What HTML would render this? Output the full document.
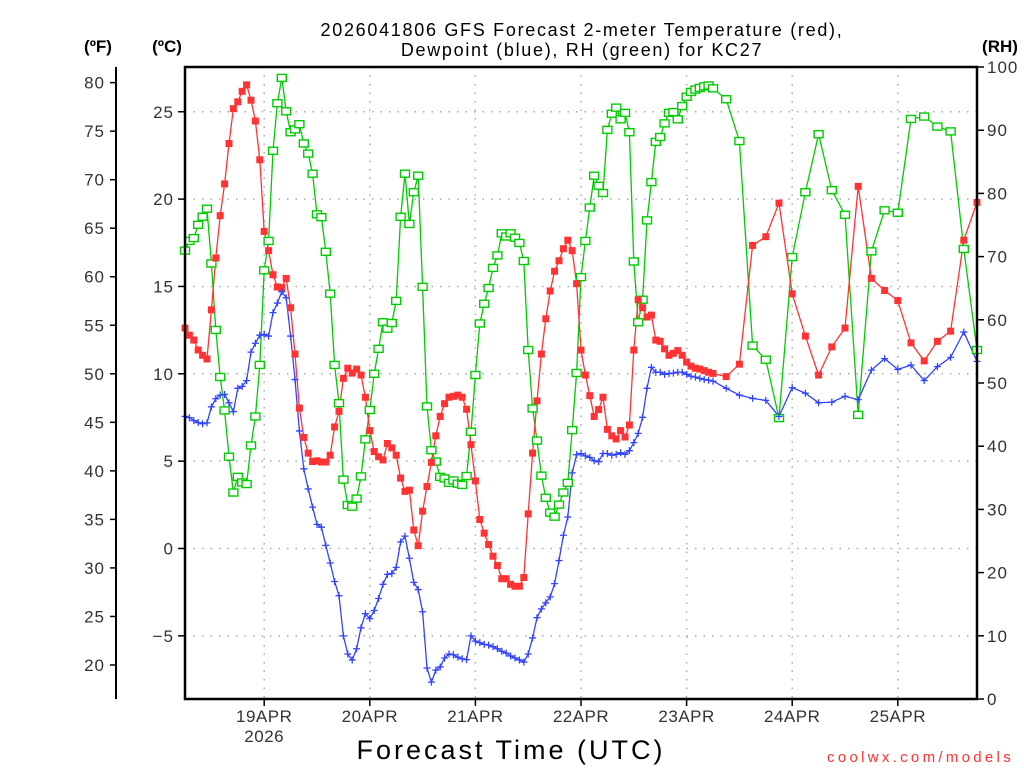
<!DOCTYPE html>
<html><head><meta charset="utf-8"><style>
html,body{margin:0;padding:0;background:#fff;}
svg{display:block;font-family:"Liberation Sans",sans-serif;}
</style></head><body>
<svg id="chart" width="1024" height="768" viewBox="0 0 1024 768" xmlns="http://www.w3.org/2000/svg">
<rect x="0" y="0" width="1024" height="768" fill="#fff"/>
<g id="grid"></g>
<g id="series"></g>
<g id="axes"></g>
<text x="582" y="36" font-size="18" text-anchor="middle" fill="#000" letter-spacing="1.7">2026041806 GFS Forecast 2-meter Temperature (red),</text>
<text x="582" y="56" font-size="18" text-anchor="middle" fill="#000" letter-spacing="1.7">Dewpoint (blue), RH (green) for KC27</text>
<text x="98" y="52" font-size="17" font-weight="bold" text-anchor="middle">(ºF)</text>
<text x="167" y="52" font-size="17" font-weight="bold" text-anchor="middle">(ºC)</text>
<text x="1000" y="52" font-size="17" font-weight="bold" text-anchor="middle">(RH)</text>
<text x="511" y="759" font-size="27" text-anchor="middle" letter-spacing="3">Forecast Time (UTC)</text>
<text x="1014" y="762" font-size="15" text-anchor="end" fill="#ff3333" letter-spacing="3.3">coolwx.com/models</text>
</svg>
<script>
const hours = [];
for (let h = 0; h <= 120; h++) hours.push(h);
for (let h = 123; h <= 180; h += 3) hours.push(h);

const tempC = [12.62,12.21,11.93,11.36,11.06,10.85,13.66,16.63,19.05,20.87,23.18,25.18,25.57,26.17,26.54,25.66,24.47,22.25,18.15,17.05,15.67,14.97,14.93,15.46,13.78,11.13,8.04,6.36,5.46,4.98,5.02,4.95,4.95,5.34,6.96,7.85,9.74,10.32,10.04,10.27,9.93,8.66,6.75,5.55,5.25,5.07,6.01,5.76,5.34,4.03,3.27,3.34,1.06,0.16,2.14,3.55,4.93,6.45,7.56,8.29,8.66,8.71,8.78,8.66,7.97,5.94,3.87,1.66,0.88,0.23,-0.44,-0.97,-1.73,-1.73,-2.05,-2.16,-2.16,-1.66,1.98,5.46,8.45,11.13,13.15,14.74,15.87,16.47,17.16,17.65,17.05,15.16,11.36,9.93,8.75,7.56,7.95,8.66,6.82,6.45,6.27,6.75,6.38,7.07,11.36,14.24,13.78,13.25,13.36,11.93,11.86,11.43,11.06,11.17,11.33,11.06,10.67,10.44,10.32,10.27,10.18,10.09,10.02,9.84,10.55,17.35,17.85,19.77,14.58,12.16,9.93,11.54,12.62,20.73,15.46,14.77,14.19,11.77,10.74,11.86,12.44,17.65,19.81];

const dewC = [7.56,7.49,7.32,7.21,7.14,7.19,8.11,8.57,8.78,8.82,8.34,7.83,9.17,9.28,9.61,11.24,11.75,12.21,12.26,12.16,13.50,14.05,14.70,14.35,12.16,9.67,6.73,4.56,3.41,2.37,1.38,1.22,0.18,-0.83,-1.89,-2.70,-5.00,-6.04,-6.38,-5.74,-4.54,-3.73,-4.01,-3.55,-2.86,-2.05,-1.48,-1.43,-1.08,0.37,0.71,-0.56,-1.94,-2.35,-3.62,-6.84,-7.65,-6.96,-6.78,-6.27,-6.04,-6.08,-6.22,-6.31,-6.36,-5.00,-5.30,-5.39,-5.49,-5.53,-5.62,-5.74,-5.88,-5.99,-6.15,-6.27,-6.38,-6.50,-6.04,-5.12,-3.96,-3.46,-3.11,-2.77,-2.01,-0.69,0.76,1.80,4.33,5.37,5.44,5.30,5.21,5.02,4.97,5.44,5.44,5.34,5.39,5.48,5.39,5.60,6.06,6.59,7.51,9.17,10.37,10.09,10.09,9.97,10.02,10.04,10.09,10.09,9.97,9.86,9.81,9.74,9.67,9.63,9.58,9.17,8.78,8.59,8.48,7.56,9.21,8.89,8.34,8.38,8.71,8.52,10.21,10.87,10.25,10.50,9.61,10.41,10.94,12.39,10.71];

const rh = [70.95,72.48,72.93,75.03,76.30,77.58,68.91,58.40,50.95,45.66,38.34,32.67,35.15,34.26,34.01,40.12,44.71,52.86,67.83,72.48,86.75,94.27,98.28,92.99,89.68,90.13,90.95,87.90,86.30,83.12,76.69,76.24,70.76,64.14,52.86,46.81,34.71,30.69,30.44,31.71,35.22,41.08,45.73,51.46,55.41,59.61,58.60,59.49,62.99,76.30,83.12,75.16,80.19,82.80,65.22,46.30,39.36,37.57,35.15,34.90,34.20,34.58,34.07,33.88,35.28,42.29,51.27,59.42,62.54,65.03,68.21,70.19,73.69,73.18,73.69,72.99,72.16,69.30,55.22,45.98,40.89,35.34,31.84,29.48,28.85,30.76,32.67,34.20,42.54,51.59,66.75,72.48,77.77,82.80,81.21,80.06,90.06,92.61,93.57,91.72,92.74,89.68,69.23,59.61,63.18,75.73,81.78,88.15,88.92,91.08,92.74,92.87,91.72,93.82,95.29,96.05,96.43,96.69,96.94,97.07,96.62,94.90,88.28,55.92,53.69,44.45,69.93,80.19,89.36,80.51,76.62,44.96,70.83,77.32,76.94,91.78,92.16,90.57,89.81,71.21,55.22];

const cTicks = [25,20,15,10,5,0,-5];
const fTicks = [80,75,70,65,60,55,50,45,40,35,30,25,20];
const rhTicks = [100,90,80,70,60,50,40,30,20,10,0];
const dayHours = [18,42,66,90,114,138,162];
const dayLabels = ["19APR","20APR","21APR","22APR","23APR","24APR","25APR"];

const L=185,R=977,T=67,B=699;
const xOf = h => L + (h/180)*(R-L);
const yC = c => 548.5 - c*17.47;
const yF = f => yC((f-32)/1.8);
const yRH = v => B - v*(B-T)/100;
const NS="http://www.w3.org/2000/svg";
function mk(tag, attrs, parent){const e=document.createElementNS(NS,tag);for(const k in attrs)e.setAttribute(k,attrs[k]);parent.appendChild(e);return e;}
const grid=document.getElementById('grid'), ser=document.getElementById('series'), axes=document.getElementById('axes');

cTicks.forEach(c=>{
  const g=mk('line',{x1:L,x2:R,y1:yC(c),y2:yC(c),stroke:'#aaa','stroke-width':1.5,'stroke-dasharray':'1.5 7'},grid);
  
  
  const t=mk('line',{x1:L-7,x2:L,y1:yC(c),y2:yC(c),stroke:'#000','stroke-width':1.5},axes);
  
  
  const lb=mk('text',{x:L-11,y:yC(c)+6,'font-size':17,'text-anchor':'end',fill:'#333','letter-spacing':1},axes);
  lb.textContent = c<0 ? '\u2212'+(-c) : c;
  
  
});
dayHours.forEach((h,i)=>{
  const g=mk('line',{x1:xOf(h),x2:xOf(h),y1:T,y2:B,stroke:'#aaa','stroke-width':1.5,'stroke-dasharray':'1.5 7'},grid);
  
  
  const t=mk('line',{x1:xOf(h),x2:xOf(h),y1:B,y2:B+7,stroke:'#000','stroke-width':1.5},axes);
  
  
  const lb=mk('text',{x:xOf(h),y:B+23,'font-size':17,'text-anchor':'middle',fill:'#333','letter-spacing':0.5},axes);
  lb.textContent=dayLabels[i];
  
  
});
const yr=mk('text',{x:xOf(dayHours[0]),y:B+43,'font-size':17,'text-anchor':'middle',fill:'#333','letter-spacing':0.5},axes);
yr.textContent='2026';



const fl=mk('line',{x1:116,x2:116,y1:T,y2:B,stroke:'#000','stroke-width':2},axes);


fTicks.forEach(f=>{
  const t=mk('line',{x1:110,x2:116,y1:yF(f),y2:yF(f),stroke:'#000','stroke-width':1.5},axes);
  
  
  const lb=mk('text',{x:105,y:yF(f)+6,'font-size':17,'text-anchor':'end',fill:'#333','letter-spacing':1},axes);
  lb.textContent=f;
  
  
});
rhTicks.forEach(v=>{
  const t=mk('line',{x1:R,x2:R+7,y1:yRH(v),y2:yRH(v),stroke:'#000','stroke-width':1.5},axes);
  
  
  const lb=mk('text',{x:R+10,y:yRH(v)+6,'font-size':17,'text-anchor':'start',fill:'#333','letter-spacing':1},axes);
  lb.textContent=v;
  
  
});
const fr=mk('rect',{x:L,y:T,width:R-L,height:B-T,fill:'none',stroke:'#000','stroke-width':2.5},axes);



function line(vals, yf, color, name){
  const p=mk('polyline',{points:vals.map((v,i)=>xOf(hours[i]).toFixed(1)+','+yf(v).toFixed(1)).join(' '),fill:'none',stroke:color,'stroke-width':1.3},ser);
  
  
}
line(rh,yRH,'#00cc00','rh-line');
line(tempC,yC,'#ff3333','temperature-line');
line(dewC,yC,'#3344ff','dewpoint-line');
rh.forEach((v,i)=>{
  const m=mk('rect',{x:xOf(hours[i])-4.5,y:yRH(v)-3.5,width:9,height:7,fill:'#fff',stroke:'#00cc00','stroke-width':1.4},ser);
  
  
});
tempC.forEach((v,i)=>{
  const m=mk('rect',{x:xOf(hours[i])-3.5,y:yC(v)-3.5,width:7,height:7,fill:'#ff3333'},ser);
  
  
});
dewC.forEach((v,i)=>{
  const x=xOf(hours[i]),y=yC(v);
  const m=mk('path',{d:`M${x-3.5},${y}H${x+3.5}M${x},${y-3.5}V${y+3.5}`,stroke:'#3344ff','stroke-width':1.3,fill:'none'},ser);
  
  
});
</script>
</body></html>
